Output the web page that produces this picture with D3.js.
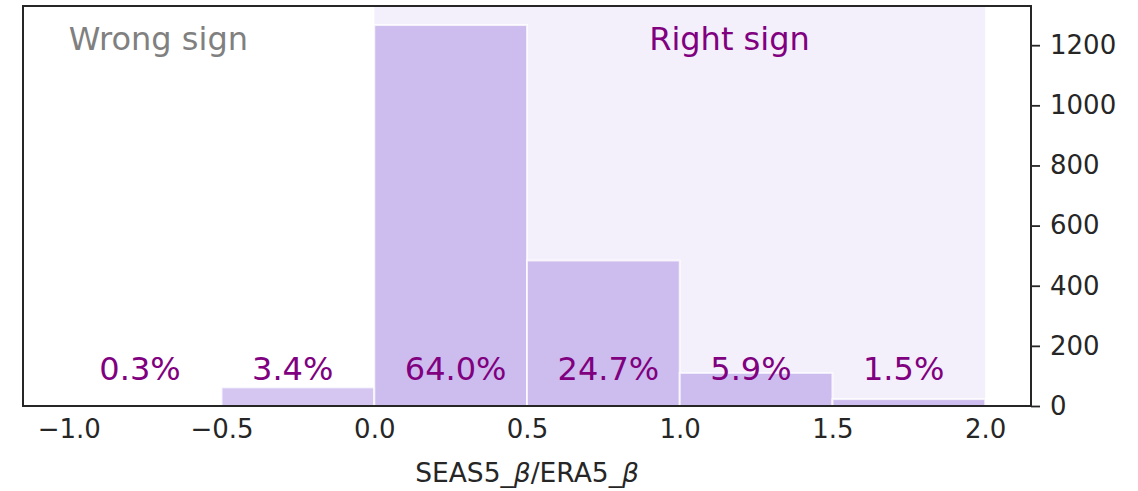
<!DOCTYPE html>
<html>
<head>
<meta charset="utf-8">
<script src="https://cdn.jsdelivr.net/npm/d3@7"></script>
<style>
  html, body { margin: 0; padding: 0; background: #ffffff; }
  svg { display: block; font-family: "DejaVu Sans", sans-serif; }
</style>
</head>
<body>
<svg id="chart" width="1138" height="491"></svg>
<script>
// Histogram of the SEAS5/ERA5 beta ratio, binned by 0.5
const binEdges = [-1.0, -0.5, 0.0, 0.5, 1.0, 1.5, 2.0];
const binCounts = [1, 62, 1267, 484, 110, 23];
const binShareLabels = ["0.3%", "3.4%", "64.0%", "24.7%", "5.9%", "1.5%"];
const xTicks = [-1.0, -0.5, 0.0, 0.5, 1.0, 1.5, 2.0];
const yTicks = [0, 200, 400, 600, 800, 1000, 1200];
const rightSignRange = [0.0, 2.0];

const svg = d3.select("#chart");
const margin = { left: 23, right: 107, top: 6, bottom: 85 };
const W = 1138, H = 491;
const innerW = W - margin.left - margin.right;
const innerH = H - margin.top - margin.bottom;

const purple = "mediumpurple";
const ink = "#262626";
const labelSize = 32;

const x = d3.scaleLinear()
  .domain([-1.15, 2.15])
  .range([margin.left, margin.left + innerW]);
const y = d3.scaleLinear()
  .domain([0, d3.max(binCounts) * 1.05])
  .range([margin.top + innerH, margin.top]);

// Shaded "right sign" band
svg.append("rect")
  .attr("x", x(rightSignRange[0]))
  .attr("width", x(rightSignRange[1]) - x(rightSignRange[0]))
  .attr("y", margin.top)
  .attr("height", innerH)
  .attr("fill", purple)
  .attr("fill-opacity", 0.1);

// Bars
const bins = binCounts.map((c, i) => ({ x0: binEdges[i], x1: binEdges[i + 1], count: c, label: binShareLabels[i] }));
svg.append("g").selectAll("rect")
  .data(bins)
  .join("rect")
  .attr("x", d => x(d.x0))
  .attr("width", d => x(d.x1) - x(d.x0))
  .attr("y", d => y(d.count))
  .attr("height", d => y(0) - y(d.count))
  .attr("fill", purple)
  .attr("fill-opacity", 0.4)
  .attr("stroke", "#ffffff")
  .attr("stroke-opacity", 0.75)
  .attr("stroke-width", 2);

// Share labels, placed just right of each bin's left edge
svg.append("g").selectAll("text")
  .data(bins)
  .join("text")
  .attr("x", d => x(d.x0 + 0.1))
  .attr("y", y(87))
  .attr("font-size", labelSize)
  .attr("fill", "purple")
  .text(d => d.label);

// Region captions
svg.append("text")
  .attr("x", x(-1.0))
  .attr("y", y(1183))
  .attr("font-size", labelSize)
  .attr("fill", "gray")
  .text("Wrong sign");
svg.append("text")
  .attr("x", x(0.9))
  .attr("y", y(1183))
  .attr("font-size", labelSize)
  .attr("fill", "purple")
  .text("Right sign");

// Y axis on the right
const yAxis = d3.axisRight(y).tickValues(yTicks).tickSize(9).tickPadding(10).tickFormat(d3.format("d"));
const gy = svg.append("g")
  .attr("transform", `translate(${margin.left + innerW},0)`)
  .call(yAxis);
gy.select(".domain").remove();
gy.selectAll(".tick line").attr("stroke", ink).attr("stroke-width", 1.8);
gy.selectAll(".tick text")
  .attr("fill", ink)
  .attr("font-size", 26)
  .attr("font-family", "DejaVu Sans, sans-serif");

// X axis (labels only)
const xAxis = d3.axisBottom(x).tickValues(xTicks).tickSize(0).tickPadding(14).tickFormat(d3.format(".1f"));
const gx = svg.append("g")
  .attr("transform", `translate(0,${margin.top + innerH})`)
  .call(xAxis);
gx.select(".domain").remove();
gx.selectAll(".tick text")
  .attr("fill", ink)
  .attr("font-size", 26)
  .attr("font-family", "DejaVu Sans, sans-serif");

// Frame
svg.append("rect")
  .attr("x", margin.left)
  .attr("y", margin.top)
  .attr("width", innerW)
  .attr("height", innerH)
  .attr("fill", "none")
  .attr("stroke", ink)
  .attr("stroke-width", 2);

// X label with italic beta
const xl = svg.append("text")
  .attr("x", margin.left + innerW / 2)
  .attr("y", 482)
  .attr("text-anchor", "middle")
  .attr("font-size", 26.5)
  .attr("fill", ink);
xl.append("tspan").text("SEAS5_");
xl.append("tspan").attr("font-style", "italic").text("β");
xl.append("tspan").text("/ERA5_");
xl.append("tspan").attr("font-style", "italic").text("β");
</script>
</body>
</html>
